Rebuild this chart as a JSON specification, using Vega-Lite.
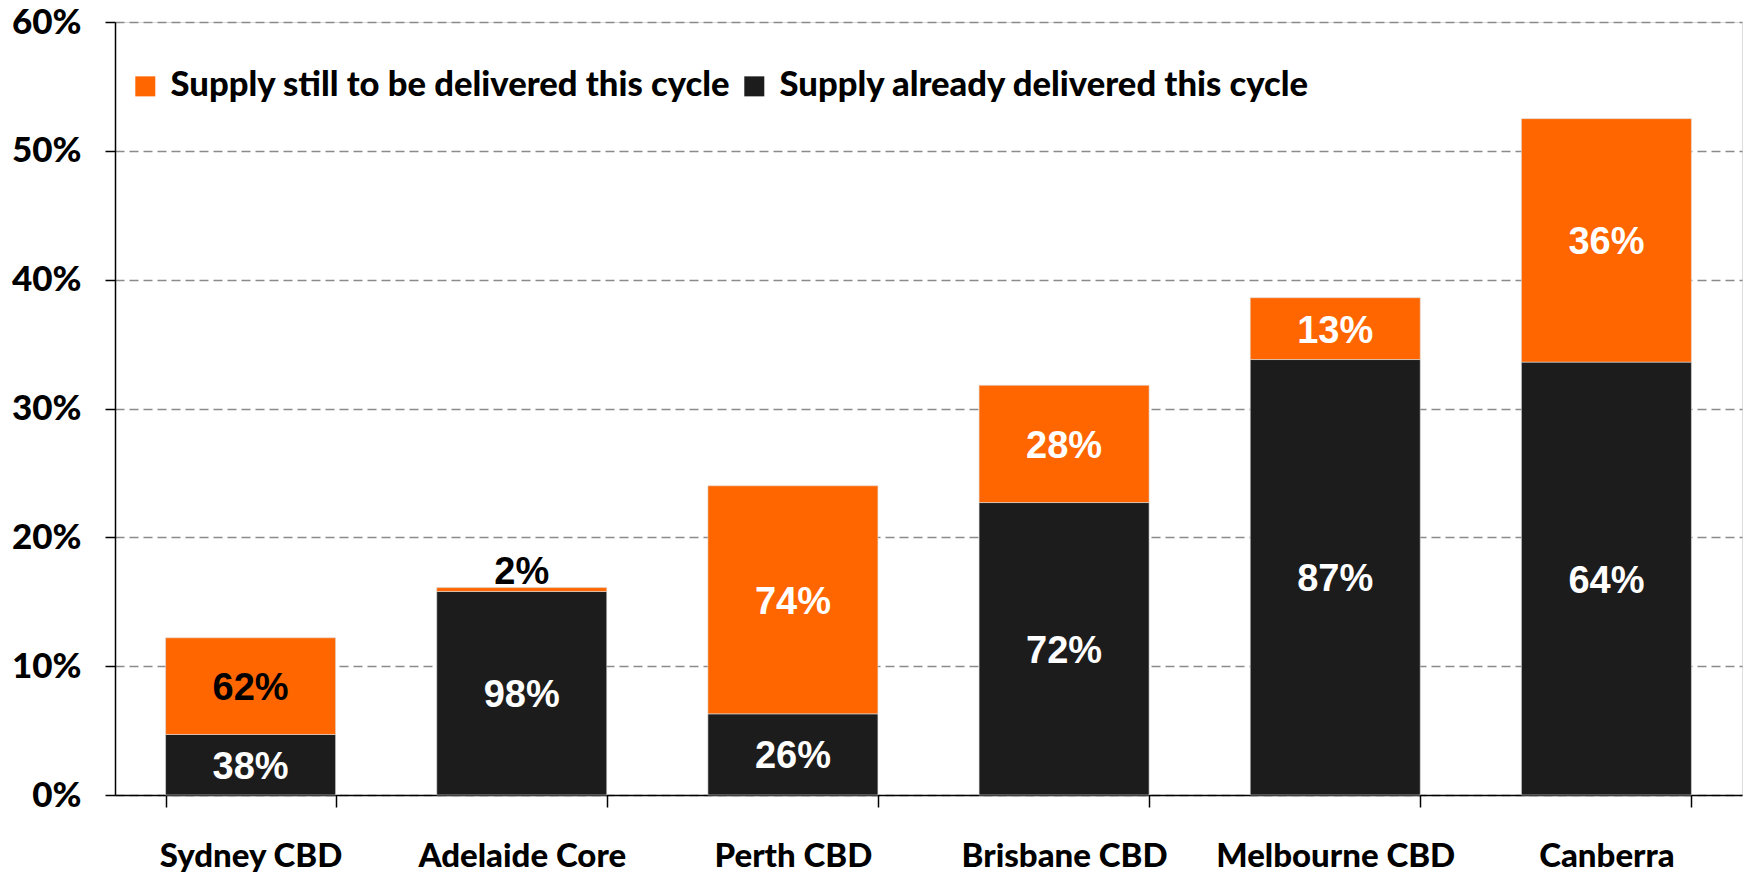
{
  "$schema": "https://vega.github.io/schema/vega-lite/v6.json",
  "width": 1627,
  "height": 773,
  "autosize": {"type": "none"},
  "padding": {"left": 115, "top": 22, "right": 12, "bottom": 79},
  "background": "#ffffff",
  "data": {
    "values": [
      {"city": "Sydney CBD", "series": "Supply already delivered this cycle", "value": 0.047, "share": 0.38},
      {"city": "Sydney CBD", "series": "Supply still to be delivered this cycle", "value": 0.075, "share": 0.62},
      {"city": "Adelaide Core", "series": "Supply already delivered this cycle", "value": 0.158, "share": 0.98},
      {"city": "Adelaide Core", "series": "Supply still to be delivered this cycle", "value": 0.003, "share": 0.02},
      {"city": "Perth CBD", "series": "Supply already delivered this cycle", "value": 0.063, "share": 0.26},
      {"city": "Perth CBD", "series": "Supply still to be delivered this cycle", "value": 0.177, "share": 0.74},
      {"city": "Brisbane CBD", "series": "Supply already delivered this cycle", "value": 0.227, "share": 0.72},
      {"city": "Brisbane CBD", "series": "Supply still to be delivered this cycle", "value": 0.091, "share": 0.28},
      {"city": "Melbourne CBD", "series": "Supply already delivered this cycle", "value": 0.338, "share": 0.87},
      {"city": "Melbourne CBD", "series": "Supply still to be delivered this cycle", "value": 0.048, "share": 0.13},
      {"city": "Canberra", "series": "Supply already delivered this cycle", "value": 0.336, "share": 0.64},
      {"city": "Canberra", "series": "Supply still to be delivered this cycle", "value": 0.189, "share": 0.36}
    ]
  },
  "encoding": {
    "x": {
      "field": "city",
      "type": "nominal",
      "sort": ["Sydney CBD", "Adelaide Core", "Perth CBD", "Brisbane CBD", "Melbourne CBD", "Canberra"],
      "scale": {"paddingInner": 0.373, "paddingOuter": 0.1865},
      "axis": {
        "title": null,
        "labelAngle": 0,
        "labelFont": "Lato",
        "labelFontWeight": 900,
        "labelFontSize": 33,
        "labelColor": "#000000",
        "labelPadding": 33,
        "labelLimit": 400,
        "labelOverlap": false,
        "tickBand": "extent",
        "tickSize": 12,
        "tickColor": "#000000",
        "tickWidth": 1.5,
        "domainColor": "#000000",
        "domainWidth": 1.5,
        "grid": false
      }
    }
  },
  "layer": [
    {
      "mark": {"type": "bar", "stroke": "#dddddd", "strokeWidth": 0.6},
      "encoding": {
        "y": {
          "field": "value",
          "type": "quantitative",
          "stack": "zero",
          "scale": {"domain": [0, 0.6], "nice": false},
          "axis": {
            "title": null,
            "values": [0, 0.1, 0.2, 0.3, 0.4, 0.5, 0.6],
            "format": ".0%",
            "labelFont": "Lato",
            "labelFontWeight": 900,
            "labelFontSize": 35,
            "labelColor": "#000000",
            "labelPadding": 24,
            "tickSize": 10,
            "tickColor": "#000000",
            "tickWidth": 1.5,
            "domainColor": "#000000",
            "domainWidth": 1.5,
            "grid": true,
            "gridColor": "#8a8a8a",
            "gridDash": [9, 5],
            "gridWidth": 1.5
          }
        },
        "color": {
          "field": "series",
          "type": "nominal",
          "scale": {
            "domain": ["Supply still to be delivered this cycle", "Supply already delivered this cycle"],
            "range": ["#FF6600", "#1C1C1C"]
          },
          "legend": {
            "title": null,
            "orient": "none",
            "legendX": 13,
            "legendY": 47,
            "direction": "horizontal",
            "columns": 2,
            "symbolType": "square",
            "symbolSize": 400,
            "symbolStrokeWidth": 0,
            "labelFont": "Lato",
            "labelFontWeight": 900,
            "labelFontSize": 34.6,
            "labelColor": "#000000",
            "labelLimit": 900,
            "labelOffset": 8,
            "columnPadding": 6,
            "padding": 0
          }
        },
        "order": {"field": "series", "sort": "ascending"}
      }
    },
    {
      "transform": [
        {"filter": "datum.share >= 0.05"},
        {"stack": "value", "groupby": ["city"], "as": ["v0", "v1"], "sort": [{"field": "series", "order": "ascending"}]},
        {"calculate": "(datum.v0 + datum.v1) / 2", "as": "mid"}
      ],
      "mark": {"type": "text", "font": "Liberation Sans", "fontWeight": "bold", "fontSize": 38, "baseline": "middle", "align": "center", "dy": 3},
      "encoding": {
        "y": {"field": "mid", "type": "quantitative", "scale": {"domain": [0, 0.6], "nice": false}},
        "text": {"field": "share", "type": "quantitative", "format": ".0%"},
        "color": {
          "condition": {"test": "datum.city === 'Sydney CBD' && datum.series === 'Supply still to be delivered this cycle'", "value": "#000000"},
          "value": "#ffffff"
        }
      }
    },
    {
      "transform": [
        {"stack": "value", "groupby": ["city"], "as": ["v0", "v1"], "sort": [{"field": "series", "order": "ascending"}]},
        {"filter": "datum.share < 0.05"}
      ],
      "mark": {"type": "text", "font": "Liberation Sans", "fontWeight": "bold", "fontSize": 38, "baseline": "bottom", "align": "center", "dy": 4, "color": "#000000"},
      "encoding": {
        "y": {"field": "v1", "type": "quantitative", "scale": {"domain": [0, 0.6], "nice": false}},
        "text": {"field": "share", "type": "quantitative", "format": ".0%"}
      }
    }
  ]
}
